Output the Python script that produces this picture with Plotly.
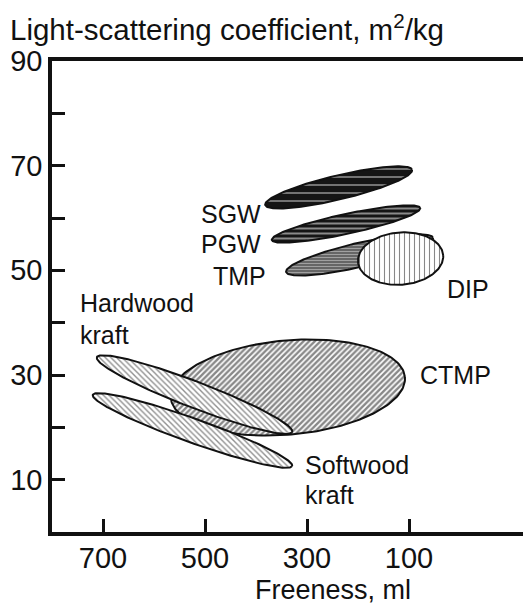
import numpy as np
import plotly.graph_objects as go

# ---------------- data ----------------
regions = ["CTMP", "Softwood kraft", "Hardwood kraft", "SGW", "PGW", "TMP", "DIP"]
# end points of each region's long axis (freeness ml, light-scattering m2/kg)
end1_freeness = [567, 720, 712, 382, 369, 341, 200]
end1_scatter = [25.6, 26.2, 33.4, 62.5, 55.8, 49.7, 51.6]
end2_freeness = [108, 329, 329, 94, 78, 53, 33]
end2_scatter = [29.6, 12.6, 19.1, 69.2, 61.9, 56.2, 52.9]
half_width = [9.0, 2.3, 2.5, 2.3, 1.9, 2.3, 5.0]  # m2/kg

x_ticks = [700, 500, 300, 100]
y_ticks = [10, 30, 50, 70, 90]
y_minor_ticks = [20, 40, 60, 80]

# ---------------- styles ----------------
FONT = "Liberation Sans, Arial, sans-serif"
INK = "#111111"
patterns = {
    "CTMP": dict(shape="/", fgcolor="#111111", bgcolor="#ffffff", size=4, solidity=0.6),
    "Softwood kraft": dict(shape="\\", fgcolor="#222222", bgcolor="#ffffff", size=4, solidity=0.35),
    "Hardwood kraft": dict(shape="\\", fgcolor="#222222", bgcolor="#ffffff", size=4, solidity=0.35),
    "SGW": dict(shape="-", fgcolor="#ffffff", bgcolor="#151515", size=8, solidity=0.2),
    "PGW": dict(shape="-", fgcolor="#ffffff", bgcolor="#151515", size=5, solidity=0.4),
    "TMP": dict(shape="-", fgcolor="#e6e6e6", bgcolor="#5a5a5a", size=3, solidity=0.45),
    "DIP": dict(shape="|", fgcolor="#111111", bgcolor="#ffffff", size=5, solidity=0.22),
}

X_RANGE = [800, -123.5]
Y_RANGE = [0, 90]
W, H = 523, 607
M = dict(l=52, r=0, t=61, b=75)
plot_w = W - M["l"] - M["r"]
plot_h = H - M["t"] - M["b"]
kx = plot_w / abs(X_RANGE[1] - X_RANGE[0])  # px per ml
ky = plot_h / (Y_RANGE[1] - Y_RANGE[0])      # px per m2/kg


def ellipse(x1, y1, x2, y2, hw, n=200):
    # build in screen-proportional space so the shape is a true ellipse on screen
    X1, Y1, X2, Y2 = -x1 * kx, y1 * ky, -x2 * kx, y2 * ky
    cx, cy = (X1 + X2) / 2, (Y1 + Y2) / 2
    a = np.hypot(X2 - X1, Y2 - Y1) / 2
    th = np.arctan2(Y2 - Y1, X2 - X1)
    b = hw * ky
    t = np.linspace(0, 2 * np.pi, n)
    ex = a * np.cos(t)
    ey = b * np.sin(t)
    X = cx + ex * np.cos(th) - ey * np.sin(th)
    Y = cy + ex * np.sin(th) + ey * np.cos(th)
    return -X / kx, Y / ky


fig = go.Figure()
for i, name in enumerate(regions):
    xs, ys = ellipse(end1_freeness[i], end1_scatter[i], end2_freeness[i],
                     end2_scatter[i], half_width[i])
    p = patterns[name]
    fig.add_trace(go.Scatter(
        x=xs, y=ys, mode="lines", fill="toself",
        fillcolor=p["bgcolor"], fillpattern=p,
        line=dict(color="#111111", width=2),
        hoverinfo="skip", showlegend=False, name=name,
    ))

# region labels: (text, x, y, xanchor)
labels = [
    ("SGW", 386, 60.8, "right"),
    ("PGW", 386, 55.0, "right"),
    ("TMP", 376, 48.9, "right"),
    ("DIP", 29, 46.4, "left"),
    ("CTMP", 82, 30.0, "left"),
    ("Hardwood", 749, 43.8, "left"),
    ("kraft", 749, 37.6, "left"),
    ("Softwood", 308, 12.8, "left"),
    ("kraft", 308, 7.1, "left"),
]
for txt, x, y, xa in labels:
    fig.add_annotation(x=x, y=y, text=txt, showarrow=False, xanchor=xa,
                       yanchor="middle", font=dict(family=FONT, size=25, color=INK))

# axis titles
fig.add_annotation(xref="paper", yref="paper", x=(8 - M["l"]) / plot_w,
                   y=(H - M["b"] - 27) / plot_h, xanchor="left", yanchor="middle",
                   text="Light-scattering coefficient, m<sup>2</sup>/kg", showarrow=False,
                   font=dict(family=FONT, size=29.5, color=INK))
fig.add_annotation(xref="x", yref="paper", x=249, y=-(590 - (H - M["b"])) / plot_h,
                   xanchor="center", yanchor="middle", text="Freeness, ml", showarrow=False,
                   font=dict(family=FONT, size=27, color=INK))

fig.update_layout(
    width=W, height=H, margin=dict(M, autoexpand=False),
    paper_bgcolor="white", plot_bgcolor="white",
    font=dict(family=FONT, color=INK),
)
fig.update_xaxes(range=X_RANGE, tickvals=x_ticks, ticks="inside", ticklen=13,
                 tickwidth=3, tickcolor=INK, showline=True, linewidth=3.5,
                 linecolor=INK, mirror=True, showgrid=False, zeroline=False,
                 automargin=False,
                 tickfont=dict(family=FONT, size=29, color=INK), ticklabelstandoff=-3)
fig.update_yaxes(range=Y_RANGE, tickvals=y_ticks, ticks="inside",
                 ticklen=13, tickwidth=3, tickcolor=INK, showline=True, linewidth=3.5,
                 linecolor=INK, showgrid=False, zeroline=False, automargin=False,
                 minor=dict(tickvals=y_minor_ticks, ticks="inside", ticklen=13,
                            tickwidth=3, tickcolor=INK, showgrid=False),
                 tickfont=dict(family=FONT, size=29, color=INK), ticklabelstandoff=0)

fig.write_html("out.html", config={"displayModeBar": False},
               post_script="document.body.style.margin='0';")
